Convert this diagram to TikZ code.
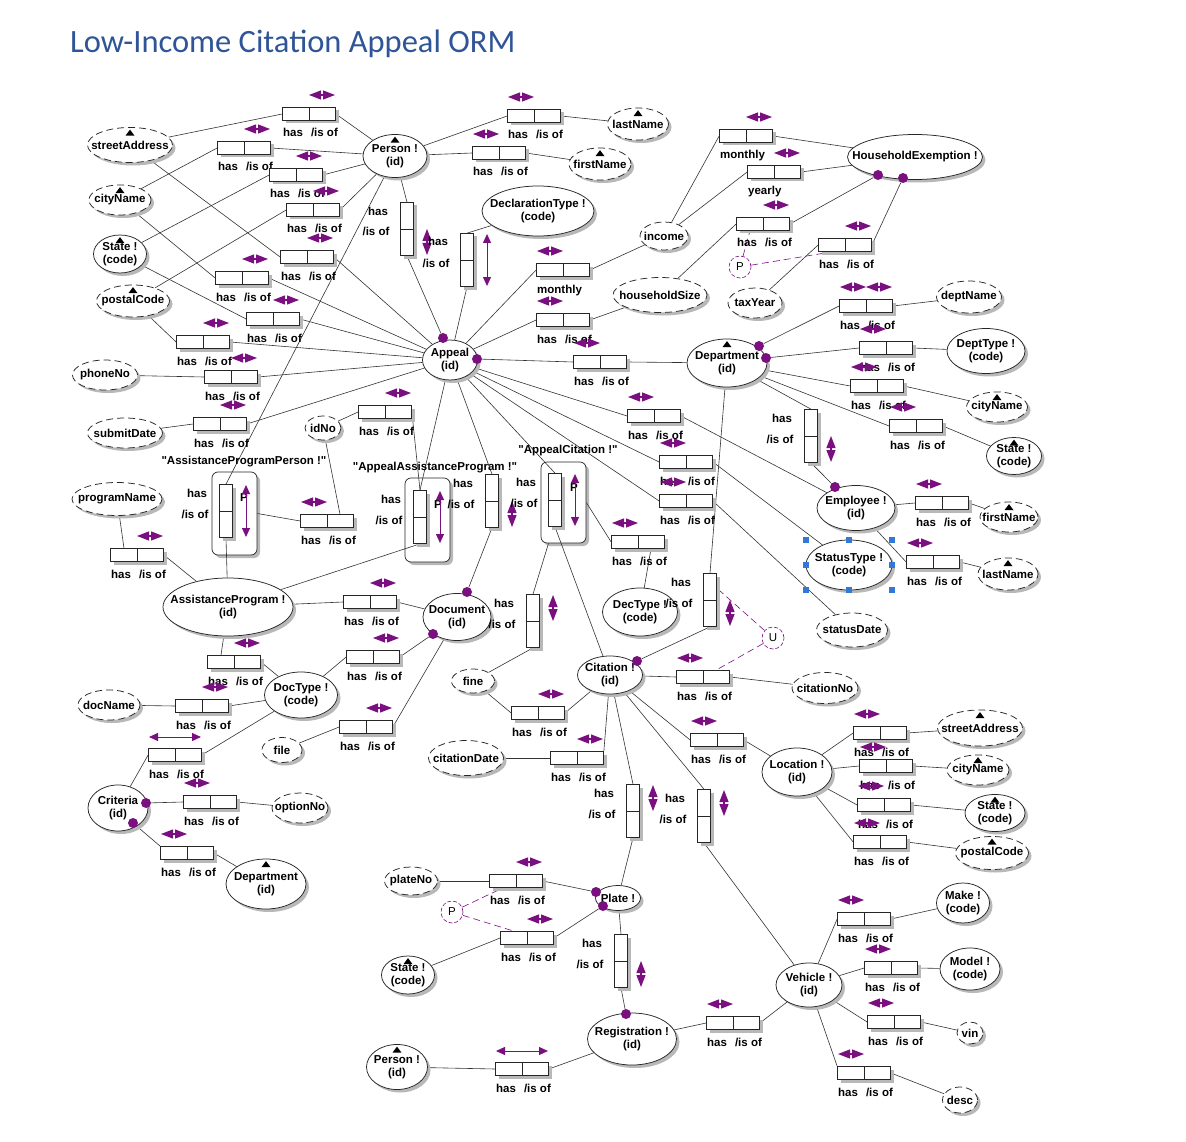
\documentclass[tikz,border=0pt]{standalone}
\usepackage{fontspec}
\setmainfont{Liberation Sans}[Ligatures=TeXOff]
\newfontfamily\titlefont{Carlito}
\usetikzlibrary{shapes.geometric,arrows.meta,shadows,calc}
\definecolor{ucol}{RGB}{122,16,128}
\definecolor{tcol}{RGB}{47,85,151}
\definecolor{selc}{RGB}{50,120,215}
\pgfdeclarelayer{back}\pgfdeclarelayer{mid}\pgfsetlayers{back,mid,main}
\newcommand\fbf{\bfseries\fontsize{11.5}{13}\selectfont}
\newcommand\hio{has\hspace{8pt}/is of}
\tikzset{
 shd/.style={drop shadow={shadow xshift=3pt, shadow yshift=-3pt, fill=black!28, opacity=1}},
 ent/.style 2 args={ellipse, draw=black!85, line width=0.75pt, fill=white, minimum width=#1pt, minimum height=#2pt, inner sep=0pt, shd},
 val/.style 2 args={ent={#1}{#2}, dash pattern=on 7pt off 4pt},
 etx/.style={align=center, font=\fbf, inner sep=0pt},
 hbox/.style={draw=black!85, line width=0.7pt, fill=white, minimum width=53pt, minimum height=13pt, inner sep=0pt, shd,
   path picture={\draw[line width=0.7pt, black!85] (path picture bounding box.north) -- (path picture bounding box.south);}},
 vbox/.style={draw=black!85, line width=0.7pt, fill=white, minimum width=13pt, minimum height=53pt, inner sep=0pt, shd,
   path picture={\draw[line width=0.7pt, black!85] (path picture bounding box.west) -- (path picture bounding box.east);}},
 nest/.style 2 args={draw=black!85, line width=0.7pt, fill=white, rounded corners=6pt, minimum width=#1pt, minimum height=#2pt, inner sep=0pt, shd},
 flab/.style={anchor=base west, inner sep=0pt, font=\fbf},
 dot/.style={circle, fill=ucol, minimum size=10pt, inner sep=0pt},
 ccirc/.style={circle, draw=ucol, dash pattern=on 4pt off 2pt, line width=0.6pt, fill=white, minimum size=22pt, inner sep=0pt, font=\fontsize{11.5}{13}\selectfont},
 cline/.style={draw=ucol, dash pattern=on 7pt off 4pt, line width=0.6pt},
 conn/.style={draw=black!80, line width=0.6pt},
 uarr/.style={color=ucol, line width=1.2pt, {Triangle[length=12pt,width=9pt]}-{Triangle[length=12pt,width=9pt]}},
 warr/.style={color=ucol, line width=0.9pt, {Triangle[length=9pt,width=8pt]}-{Triangle[length=9pt,width=8pt]}},
}
\newcommand\mkE[6]{\node[#1={#4}{#5}, label={[etx]center:{#6}}] (#2) at #3 {};}
\newcommand\mktri[1]{\fill[black] ($(#1.north)+(0,2.5)$) -- ++(-4.5,6) -- ++(9,0) -- cycle;}
\newcommand\hfact[4]{\node[hbox] (#1) at (#2,#3) {};\node[flab] (#1-l) at (#2-26,#3+23) {#4};}
\newcommand\vfact[3]{\node[vbox] (#1) at (#2,#3) {};\node[flab, anchor=base] (#1-h) at (#2-29,#3-14) {has};\node[flab, anchor=base] (#1-i) at (#2-31,#3+7) {/is of};}
\newcommand\ucR[1]{\draw[uarr] ($(#1)+(0,-19)$) -- ($(#1)+(26,-19)$);}
\newcommand\ucL[1]{\draw[uarr] ($(#1)+(-26,-19)$) -- ($(#1)+(0,-19)$);}
\newcommand\ucW[1]{\draw[warr] ($(#1)+(-26,-18)$) -- ($(#1)+(26,-18)$);}
\newcommand\vcU[1]{\draw[uarr] ($(#1)+(20,-26)$) -- ($(#1)+(20,0)$);}
\newcommand\vcD[1]{\draw[uarr] ($(#1)+(20,0)$) -- ($(#1)+(20,26)$);}
\newcommand\vcW[1]{\draw[warr] ($(#1)+(20,-26)$) -- ($(#1)+(20,26)$);}
\begin{document}
\begin{tikzpicture}[x=1pt,y=-1pt]
\useasboundingbox (0,0) rectangle (1186,1142);
\begin{pgfonlayer}{back}
\fill[white] (0,0) rectangle (1186,1142);
\node[nest={45}{83}] (n1) at (234.5,513.5) {};
\node[nest={45}{84}] (n2) at (427.5,520) {};
\node[nest={45}{81}] (n3) at (563.5,502.5) {};
\end{pgfonlayer}

\node[anchor=base west, font=\titlefont\fontsize{32.5}{36}\selectfont, text=tcol, inner sep=0pt] (title) at (70,53) {Low-Income Citation Appeal ORM};

% entities and values
\mkE{ent}{Person}{(395,156)}{64}{43}{Person !\\(id)}
\mkE{val}{streetA}{(130,145)}{85}{35}{streetAddress}
\mkE{val}{cityA}{(120,200)}{62}{30}{cityName}
\mkE{ent}{stateA}{(120,254)}{53}{38}{State !\\(code)}
\mkE{val}{postalA}{(133,301)}{73}{32}{postalCode}
\mkE{val}{phoneNo}{(105,375)}{65}{30}{phoneNo}
\mkE{val}{submitDate}{(125,433)}{75}{30}{submitDate}
\mkE{val}{programName}{(117,499)}{90}{33}{programName}
\mkE{val}{idNo}{(323,428)}{36}{24}{idNo}
\mkE{ent}{Appeal}{(450,360)}{55}{40}{Appeal\\(id)}
\mkE{val}{lastA}{(638,124)}{61}{32}{lastName}
\mkE{val}{firstA}{(600,164)}{62}{32}{firstName}
\mkE{ent}{declType}{(538,211)}{112}{50}{DeclarationType !\\(code)}
\mkE{val}{income}{(664,236)}{48}{28}{income}
\mkE{val}{hhSize}{(660,295)}{94}{35}{householdSize}
\mkE{val}{taxYear}{(755,303)}{54}{30}{taxYear}
\mkE{ent}{hhEx}{(915,157)}{135}{45}{HouseholdExemption !}
\mkE{ent}{dept}{(727,363)}{80}{48}{Department\\(id)}
\mkE{val}{deptName}{(969,297)}{65}{32}{deptName}
\mkE{ent}{deptType}{(986,351)}{78}{45}{DeptType !\\(code)}
\mkE{val}{cityB}{(997,407)}{61}{30}{cityName}
\mkE{ent}{stateB}{(1014,456)}{55}{37}{State !\\(code)}
\mkE{ent}{employee}{(856,508)}{78}{45}{Employee !\\(id)}
\mkE{val}{firstB}{(1009,517)}{58}{30}{firstName}
\mkE{ent}{statusType}{(849,565)}{86}{50}{StatusType !\\(code)}
\mkE{val}{lastB}{(1008,574)}{60}{32}{lastName}
\mkE{val}{statusDate}{(852,630)}{71}{34}{statusDate}
\mkE{ent}{asstProg}{(228,607)}{130}{58}{AssistanceProgram !\\(id)}
\mkE{ent}{document}{(457,617)}{68}{47}{Document\\(id)}
\mkE{ent}{decType}{(640,612)}{75}{48}{DecType !\\(code)}
\mkE{ent}{citation}{(610,675)}{65}{38}{Citation !\\(id)}
\mkE{val}{citationNo}{(825,688)}{66}{31}{citationNo}
\mkE{val}{fine}{(473,681)}{43}{24}{fine}
\mkE{val}{citationDate}{(466,758)}{75}{35}{citationDate}
\mkE{ent}{location}{(797,772)}{70}{48}{Location !\\(id)}
\mkE{val}{streetB}{(980,728)}{85}{36}{streetAddress}
\mkE{val}{cityC}{(978,770)}{62}{30}{cityName}
\mkE{ent}{stateC}{(995,813)}{60}{37}{State !\\(code)}
\mkE{val}{postalB}{(992,853)}{73}{33}{postalCode}
\mkE{ent}{docType}{(301,695)}{73}{46}{DocType !\\(code)}
\mkE{val}{docName}{(109,705)}{62}{30}{docName}
\mkE{val}{file}{(282,750)}{40}{25}{file}
\mkE{ent}{criteria}{(118,808)}{60}{46}{Criteria\\(id)}
\mkE{val}{optionNo}{(300,808)}{56}{30}{optionNo}
\mkE{ent}{deptB}{(266,884)}{80}{50}{Department\\(id)}
\mkE{val}{plateNo}{(411,881)}{53}{28}{plateNo}
\mkE{ent}{plate}{(618,898)}{45}{25}{Plate !}
\mkE{ent}{stateD}{(408,975)}{53}{38}{State !\\(code)}
\mkE{ent}{registration}{(632,1039)}{89}{52}{Registration !\\(id)}
\mkE{ent}{personB}{(397,1067)}{61}{45}{Person !\\(id)}
\mkE{ent}{vehicle}{(809,985)}{66}{44}{Vehicle !\\(id)}
\mkE{ent}{make}{(963,903)}{53}{40}{Make !\\(code)}
\mkE{ent}{model}{(970,969)}{60}{42}{Model !\\(code)}
\mkE{val}{vin}{(970,1033)}{26}{22}{vin}
\mkE{val}{desc}{(960,1100)}{35}{26}{desc}
\foreach \n in {Person,streetA,cityA,stateA,postalA,lastA,firstA,dept,cityB,stateB,firstB,lastB,streetB,cityC,stateC,postalB,deptB,stateD,personB} {\mktri{\n}}

% horizontal fact types
\hfact{fa1}{309}{114}{\hio}\ucR{fa1}
\hfact{fa2}{244}{148}{\hio}\ucR{fa2}
\hfact{fa3}{296}{175}{\hio}\ucR{fa3}
\hfact{fa4}{313}{210}{\hio}\ucR{fa4}
\hfact{fa5}{307}{257}{\hio}\ucR{fa5}
\hfact{fa6}{242}{278}{\hio}\ucR{fa6}
\hfact{fa7}{273}{319}{\hio}\ucR{fa7}
\hfact{fa8}{203}{342}{\hio}\ucR{fa8}
\hfact{fa9}{231}{377}{\hio}\ucR{fa9}
\hfact{fa10}{220}{424}{\hio}\ucR{fa10}
\hfact{fpl}{534}{116}{\hio}\ucL{fpl}
\hfact{fpf}{499}{153}{\hio}\ucL{fpf}
\hfact{fa12}{327}{521}{\hio}\ucL{fa12}
\hfact{fa14}{385}{412}{\hio}\ucR{fa14}
\hfact{fa15}{137}{555}{\hio}\ucR{fa15}
\hfact{fa16}{370}{602}{\hio}\ucR{fa16}
\hfact{fa20}{638}{542}{\hio}\ucL{fa20}
\hfact{fa21}{563}{270}{monthly}\ucL{fa21}
\hfact{fa22}{563}{320}{\hio}\ucL{fa22}
\hfact{fa23}{746}{136}{monthly}\ucR{fa23}
\hfact{fa24}{774}{172}{yearly}\ucR{fa24}
\hfact{fa25}{763}{224}{\hio}\ucR{fa25}
\hfact{fa26}{845}{245}{\hio}\ucR{fa26}
\hfact{fa27}{600}{362}{\hio}\ucL{fa27}
\hfact{fa28}{654}{416}{\hio}\ucL{fa28}
\hfact{fa29}{686}{462}{\hio}\ucL{fa29}
\hfact{fa30}{686}{501}{\hio}\ucL{fa30}
\hfact{fa31}{866}{306}{\hio}\ucL{fa31}\ucR{fa31}
\hfact{fa32}{886}{348}{\hio}\ucL{fa32}
\hfact{fa33}{877}{386}{\hio}\ucL{fa33}
\hfact{fa34}{916}{426}{\hio}\ucL{fa34}
\hfact{fa36}{942}{503}{\hio}\ucL{fa36}
\hfact{fa37}{933}{562}{\hio}\ucL{fa37}
\hfact{fa39}{703}{677}{\hio}\ucL{fa39}
\hfact{fa40}{538}{713}{\hio}\ucR{fa40}
\hfact{fa41}{577}{758}{\hio}\ucR{fa41}
\hfact{fa44}{717}{740}{\hio}\ucL{fa44}
\hfact{fa45}{880}{733}{\hio}\ucL{fa45}
\hfact{fa46}{886}{766}{\hio}\ucL{fa46}
\hfact{fa47}{884}{805}{\hio}\ucL{fa47}
\hfact{fa48}{880}{842}{\hio}\ucL{fa48}
\hfact{fa49}{373}{657}{\hio}\ucR{fa49}
\hfact{fa50}{366}{727}{\hio}\ucR{fa50}
\hfact{fa51}{234}{662}{\hio}\ucR{fa51}
\hfact{fa52}{202}{706}{\hio}\ucR{fa52}
\hfact{fa53}{175}{755}{\hio}\ucW{fa53}
\hfact{fa54}{210}{802}{\hio}\ucL{fa54}
\hfact{fa55}{187}{853}{\hio}\ucL{fa55}
\hfact{fa56}{516}{881}{\hio}\ucR{fa56}
\hfact{fa57}{527}{938}{\hio}\ucR{fa57}
\hfact{fa59}{733}{1023}{\hio}\ucL{fa59}
\hfact{fa60}{522}{1069}{\hio}\ucW{fa60}
\hfact{fa61}{864}{919}{\hio}\ucL{fa61}
\hfact{fa62}{891}{968}{\hio}\ucL{fa62}
\hfact{fa63}{894}{1022}{\hio}\ucL{fa63}
\hfact{fa64}{864}{1073}{\hio}\ucL{fa64}

% vertical fact types
\vfact{va1}{407}{229}\vcD{va1}
\vfact{va2}{467}{260}\vcW{va2}
\vfact{va17}{492}{501}\vcD{va17}
\vfact{va19}{533}{621}\vcU{va19}
\vfact{va35}{811}{436}\vcD{va35}
\vfact{va38}{710}{600}\vcD{va38}
\vfact{va42}{633}{811}\vcU{va42}
\vfact{va43}{704}{816}\vcU{va43}
\vfact{va58}{621}{961}\vcD{va58}

% nested (objectified) fact types
\vfact{n1v}{226}{511}
\node[flab, anchor=base] (n1p) at (244,501) {P};
\vcW{n1v}
\node[flab, anchor=base] (n1t) at (244,464) {"AssistanceProgramPerson !"};
\vfact{n2v}{420}{517}
\node[flab, anchor=base] (n2p) at (438,508) {P};
\vcW{n2v}
\node[flab, anchor=base] (n2t) at (435,470) {"AppealAssistanceProgram !"};
\vfact{n3v}{555}{500}
\node[flab, anchor=base] (n3p) at (574,491) {P};
\vcW{n3v}
\node[flab, anchor=base] (n3t) at (568,453) {"AppealCitation !"};

% mandatory role dots
\node[dot] (dAppT) at (443,338) {};
\node[dot] (dAppR) at (477,359) {};
\node[dot] (dHE1) at (878,175) {};
\node[dot] (dHE2) at (903,178) {};
\node[dot] (dDept1) at (759,346) {};
\node[dot] (dDept2) at (766,358) {};
\node[dot] (dEmp) at (835,487) {};
\node[dot] (dDoc1) at (467,592) {};
\node[dot] (dDoc2) at (433,634) {};
\node[dot] (dCit) at (637,661) {};
\node[dot] (dCrit1) at (146,803) {};
\node[dot] (dCrit2) at (133,823) {};
\node[dot] (dPlate1) at (596,892) {};
\node[dot] (dPlate2) at (603,906) {};
\node[dot] (dReg) at (626,1014) {};

% external constraints
\node[ccirc] (cP1) at (740,267) {P};
\node[ccirc] (cU) at (773,638) {U};
\node[ccirc] (cP2) at (452,912) {P};

% selection handles
\foreach \dx/\dy in {-43/-25,0/-25,43/-25,-43/0,43/0,-43/25,0/25,43/25}
  {\fill[selc] ($(statusType)+(\dx,\dy)$) +(-3,-3) rectangle +(3,3);}

\begin{pgfonlayer}{mid}
\draw[conn] (fa1.west)--(streetA); \draw[conn] (fa1.east)--(Person);
\draw[conn] (fa2.west)--(cityA); \draw[conn] (fa2.east)--(Person);
\draw[conn] (fa3.west)--(stateA); \draw[conn] (fa3.east)--(Person);
\draw[conn] (fa4.west)--(postalA); \draw[conn] (fa4.east)--(Person);
\draw[conn] (fa5.west)--(streetA); \draw[conn] (fa5.east)--(Appeal);
\draw[conn] (fa6.west)--(cityA); \draw[conn] (fa6.east)--(Appeal);
\draw[conn] (fa7.west)--(stateA); \draw[conn] (fa7.east)--(Appeal);
\draw[conn] (fa8.west)--(postalA); \draw[conn] (fa8.east)--(Appeal);
\draw[conn] (fa9.west)--(phoneNo); \draw[conn] (fa9.east)--(Appeal);
\draw[conn] (fa10.west)--(submitDate); \draw[conn] (fa10.east)--(Appeal);
\draw[conn] (Person)--(fpl.west); \draw[conn] (fpl.east)--(lastA);
\draw[conn] (Person)--(fpf.west); \draw[conn] (fpf.east)--(firstA);
\draw[conn] (Person)--(va1.north); \draw[conn] (va1.south)--(dAppT);
\draw[conn] (declType)--(va2.north); \draw[conn] (va2.south)--(Appeal);
\draw[conn] (Person)--(n1v.north); \draw[conn] (n1v.south)--(asstProg);
\draw[conn] (n1.east)--(fa12.west); \draw[conn] ($(fa12.north)+(13,0)$)--(idNo);
\draw[conn] (idNo)--(fa14.west); \draw[conn] (fa14.east)--(n2v.north);
\draw[conn] (Appeal)--(n2v.north); \draw[conn] (n2v.south)--(asstProg);
\draw[conn] ($(fa15.north)+(-13,0)$)--(programName); \draw[conn] (fa15.east)--(asstProg);
\draw[conn] (asstProg)--(fa16.west); \draw[conn] (fa16.east)--(document);
\draw[conn] (Appeal)--(va17.north); \draw[conn] (va17.south)--(dDoc1);
\draw[conn] (Appeal)--(n3v.north); \draw[conn] (n3v.south)--(citation);
\draw[conn] ($(n3.south)+(-15,0)$)--(va19.north); \draw[conn] (va19.south)--(fine);
\draw[conn] (n3.east)--(fa20.west); \draw[conn] ($(fa20.south)+(13,0)$)--(decType);
\draw[conn] (Appeal)--(fa21.west); \draw[conn] (fa21.east)--(income);
\draw[conn] (Appeal)--(fa22.west); \draw[conn] (fa22.east)--(hhSize);
\draw[conn] (income)--(fa23.west); \draw[conn] (fa23.east)--(hhEx);
\draw[conn] (income)--(fa24.west); \draw[conn] (fa24.east)--(hhEx);
\draw[conn] (hhSize)--(fa25.west); \draw[conn] (fa25.east)--(dHE1);
\draw[conn] (taxYear)--(fa26.west); \draw[conn] (fa26.east)--(dHE2);
\draw[conn] (dAppR)--(fa27.west); \draw[conn] (fa27.east)--(dept);
\draw[conn] (Appeal)--(fa28.west); \draw[conn] (fa28.east)--(employee);
\draw[conn] (Appeal)--(fa29.west); \draw[conn] (fa29.east)--(statusType);
\draw[conn] (Appeal)--(fa30.west); \draw[conn] (fa30.east)--(statusDate);
\draw[conn] (dDept1)--(fa31.west); \draw[conn] (fa31.east)--(deptName);
\draw[conn] (dDept2)--(fa32.west); \draw[conn] (fa32.east)--(deptType);
\draw[conn] (dept)--(fa33.west); \draw[conn] (fa33.east)--(cityB);
\draw[conn] (dept)--(fa34.west); \draw[conn] (fa34.east)--(stateB);
\draw[conn] (dept)--(va35.north); \draw[conn] (va35.south)--(dEmp);
\draw[conn] (employee)--(fa36.west); \draw[conn] (fa36.east)--(firstB);
\draw[conn] (employee)--(fa37.west); \draw[conn] (fa37.east)--(lastB);
\draw[conn] (dept)--(va38.north); \draw[conn] (va38.south)--(dCit);
\draw[conn] (citation)--(fa39.west); \draw[conn] (fa39.east)--(citationNo);
\draw[conn] (fine)--(fa40.west); \draw[conn] (fa40.east)--(citation);
\draw[conn] (citationDate)--(fa41.west); \draw[conn] (fa41.north east)--(citation);
\draw[conn] (citation)--(va42.north); \draw[conn] (va42.south)--(plate);
\draw[conn] (citation)--(va43.north); \draw[conn] (va43.south)--(vehicle);
\draw[conn] (citation)--(fa44.west); \draw[conn] (fa44.east)--(location);
\draw[conn] (location)--(fa45.west); \draw[conn] (fa45.east)--(streetB);
\draw[conn] (location)--(fa46.west); \draw[conn] (fa46.east)--(cityC);
\draw[conn] (location)--(fa47.west); \draw[conn] (fa47.east)--(stateC);
\draw[conn] (location)--(fa48.west); \draw[conn] (fa48.east)--(postalB);
\draw[conn] (docType)--(fa49.west); \draw[conn] (fa49.east)--(dDoc2);
\draw[conn] (file)--(fa50.west); \draw[conn] (fa50.east)--(document);
\draw[conn] ($(fa51.north)+(-13,0)$)--(asstProg); \draw[conn] (fa51.east)--(docType);
\draw[conn] (docName)--(fa52.west); \draw[conn] (fa52.east)--(docType);
\draw[conn] (criteria)--(fa53.west); \draw[conn] (fa53.east)--(docType);
\draw[conn] (dCrit1)--(fa54.west); \draw[conn] (fa54.east)--(optionNo);
\draw[conn] (dCrit2)--(fa55.north west); \draw[conn] (fa55.east)--(deptB);
\draw[conn] (plateNo)--(fa56.west); \draw[conn] (fa56.east)--(dPlate1);
\draw[conn] (stateD)--(fa57.west); \draw[conn] (fa57.east)--(dPlate2);
\draw[conn] (plate)--(va58.north); \draw[conn] (va58.south)--(dReg);
\draw[conn] (registration)--(fa59.west); \draw[conn] (fa59.east)--(vehicle);
\draw[conn] (personB)--(fa60.west); \draw[conn] (fa60.east)--(registration);
\draw[conn] (vehicle)--(fa61.west); \draw[conn] (fa61.east)--(make);
\draw[conn] (vehicle)--(fa62.west); \draw[conn] (fa62.east)--(model);
\draw[conn] (vehicle)--(fa63.west); \draw[conn] (fa63.east)--(vin);
\draw[conn] (vehicle)--(fa64.north west); \draw[conn] (fa64.east)--(desc);
% constraint links
\draw[cline] (cP1)--($(fa25.south)+(-13,0)$);
\draw[cline] (cP1)--($(fa26.south)+(-13,0)$);
\draw[cline] (cU)--($(va38.north east)+(0,15)$);
\draw[cline] (cU)--($(fa39.north)+(13,0)$);
\draw[cline] (cP2)--($(fa56.south)+(-13,0)$);
\draw[cline] (cP2)--($(fa57.north)+(-13,0)$);
\end{pgfonlayer}
\end{tikzpicture}
\end{document}
